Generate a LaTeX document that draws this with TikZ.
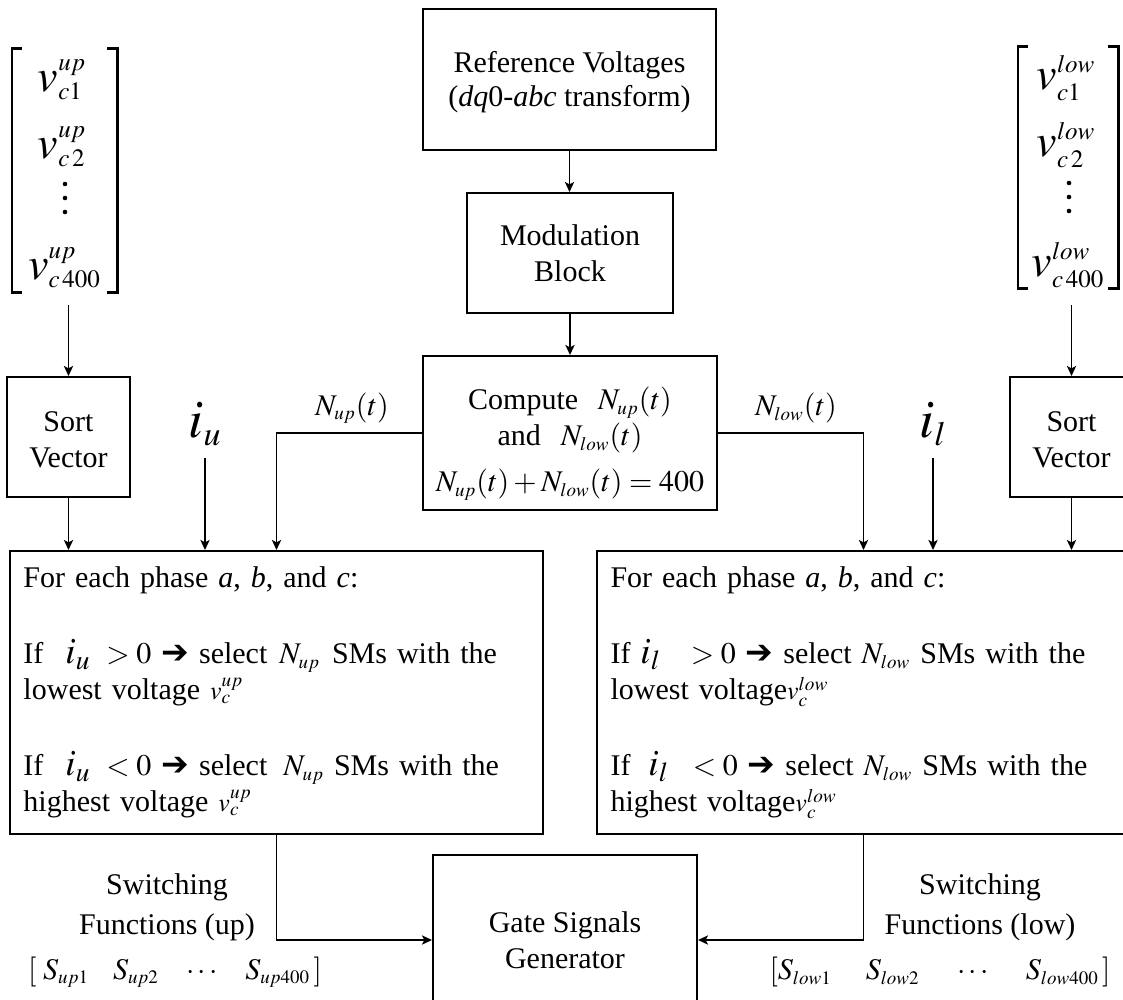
\documentclass[tikz,border=0pt]{standalone}
\usepackage{mathptmx}
\usepackage{fontspec}
\setmainfont{Liberation Serif}
\newfontfamily\dejavu{DejaVu Sans}
\usetikzlibrary{arrows.meta}
\DeclareMathSizes{27}{27}{17}{12}
\DeclareMathSizes{23}{23}{12.5}{9}
\DeclareMathSizes{15}{15}{9.5}{7}
\newcommand\txtsz{\fontsize{15}{18}\selectfont}
\newcommand\vecsz{\fontsize{23}{26}\selectfont}
\newcommand\cursz{\fontsize{27}{30}\selectfont}
\newcommand\heavyarrow{{\dejavu\fontsize{16.5}{18}\selectfont\symbol{"2794}}}
\newcommand\boxcur[1]{{\fontsize{18.5}{18}\selectfont$#1$}}
\newcommand\smallv[1]{{\fontsize{13}{18}\selectfont$v_c^{#1}$}}
\tikzset{
  blk/.style={draw, line width=1pt, align=center, inner sep=0pt, font=\txtsz},
  lbl/.style={inner sep=0pt, font=\txtsz, align=center},
  link/.style={line width=0.9pt},
  arr/.style={link, -{Stealth[length=5pt,width=4.6pt,inset=1.2pt]}},
  brk/.style={line width=1.1pt},
  vent/.style={inner sep=0pt, font=\vecsz},
  dotm/.style={fill=black},
  logic/.style={blk, align=left, text width=253pt, inner xsep=6.5pt,
    minimum width=266.5pt, minimum height=141.5pt},
}
\begin{document}
\begin{tikzpicture}[x=0.5pt,y=-0.5pt]
\useasboundingbox (0,0) rectangle (1123,1000);
\clip (0,0) rectangle (1123,1000);

% ---- capacitor voltage vectors (upper and lower arm)
\node[inner sep=0pt, minimum width=52.5pt, minimum height=121.5pt] (vup) at (64.5,170.5) {};
\draw[brk] ([xshift=5pt]vup.north west) -| (vup.south west) -- ++(5pt,0);
\draw[brk] ([xshift=-5pt]vup.north east) -| (vup.south east) -- ++(-5pt,0);
\node[vent] (vup1) at (62,80) {$v^{up}_{c1}$};
\node[vent] (vup2) at (62,147) {$v^{up}_{c\,2}$};
\fill[dotm] (65,184) circle (1.15pt) (65,198) circle (1.15pt) (65,212) circle (1.15pt);
\node[vent] (vup400) at (64.5,268) {$v^{up}_{c\,400}$};
\coordinate (vupout) at (68.5,305);

\node[inner sep=0pt, minimum width=50pt, minimum height=120.5pt] (vlow) at (1068,167.5) {};
\draw[brk] ([xshift=5pt]vlow.north west) -| (vlow.south west) -- ++(5pt,0);
\draw[brk] ([xshift=-5pt]vlow.north east) -| (vlow.south east) -- ++(-5pt,0);
\node[vent] (vlow1) at (1066,78) {$v^{low}_{c1}$};
\node[vent] (vlow2) at (1066,145) {$v^{low}_{c\,2}$};
\fill[dotm] (1069,183) circle (1.15pt) (1069,197) circle (1.15pt) (1069,211) circle (1.15pt);
\node[vent] (vlow400) at (1068,265) {$v^{low}_{c\,400}$};
\coordinate (vlowout) at (1071.5,305);

% ---- central chain
\node[blk, minimum width=146.5pt, minimum height=70.5pt] (ref) at (569.5,79.5)
  {\rule{0pt}{13pt}Reference Voltages\\[-1pt](\textit{dq}0-\textit{abc} transform)};
\node[blk, minimum width=103pt, minimum height=60pt] (mod) at (570,253)
  {Modulation\\Block};
\node[blk, minimum width=147pt, minimum height=77pt] (cmp) at (570,433)
  {\rule{0pt}{22pt}Compute\hspace{10pt}$N_{up}(t)$\\and\hspace{10pt}$N_{low}(t)$\\[5pt]$N_{up}(t)+N_{low}(t)=400$};

% ---- sorting blocks
\node[blk, minimum width=61.5pt, minimum height=60pt] (sortL) at (68.5,437) {\rule{0pt}{13pt}Sort\\Vector};
\node[blk, minimum width=61.5pt, minimum height=60pt] (sortR) at (1071.5,437) {\rule{0pt}{13pt}Sort\\Vector};

% ---- arm currents
\node[inner sep=0pt, font=\cursz] (iu) at (205,424) {$i_u$};
\node[inner sep=0pt, font=\cursz] (il) at (933,424) {$i_l$};

% ---- selection logic
\node[logic] (bigL) at (276.5,692.5)
  {For each phase \textit{a}, \textit{b}, and \textit{c}:\\[20pt]
   If\hspace{11pt}\boxcur{i_u}\hspace{8pt}$>0$ \heavyarrow\ select\hspace{6pt}$N_{up}$\hspace{6pt}SMs with the\\
   lowest voltage \smallv{up}\\[20pt]
   If\hspace{11pt}\boxcur{i_u}\hspace{8pt}$<0$ \heavyarrow\ select\hspace{8pt}$N_{up}$ SMs with the\\
   highest voltage \smallv{up}};
\node[logic] (bigR) at (863.5,692.5)
  {For each phase \textit{a}, \textit{b}, and \textit{c}:\\[20pt]
   If\hspace{5pt}\boxcur{i_l}\hspace{15pt}$>0$ \heavyarrow\ select $N_{low}$ SMs with the\\
   lowest voltage\smallv{low}\\[20pt]
   If\hspace{9pt}\boxcur{i_l}\hspace{12pt}$<0$ \heavyarrow\ select $N_{low}$ SMs with the\\
   highest voltage\smallv{low}};

% ---- gate signal generation
\node[blk, minimum width=132pt, minimum height=85pt] (gate) at (565,940) {Gate Signals\\Generator};

% ---- labels
\node[lbl] (nup) at (352,408) {$N_{up}(t)$};
\node[lbl] (nlow) at (796,408) {$N_{low}(t)$};
\node[lbl] (swL) at (167,907) {Switching\\[2pt]Functions (up)};
\node[lbl] (sL) at (175,972) {$\left[\;S_{up1}\hspace{12pt}S_{up2}\hspace{12pt}\cdots\hspace{12pt}S_{up400}\,\right]$};
\node[lbl] (swR) at (980,907) {Switching\\[2pt]Functions (low)};
\node[lbl] (sR) at (940,972) {$\left[S_{low1}\hspace{17pt}S_{low2}\hspace{17pt}\cdots\hspace{17pt}S_{low400}\,\right]$};

% ---- connectors
\draw[arr] (ref.south) -- (ref.south |- mod.north);
\draw[arr] (mod.south) -- (cmp.north);
\draw[arr] (vupout) -- (sortL.north);
\draw[arr] (vlowout) -- (sortR.north);
\draw[arr] (sortL.south) -- (sortL.south |- bigL.north);
\draw[arr] (sortR.south) -- (sortR.south |- bigR.north);
\draw[arr] ([yshift=-6pt]iu.south) -- (iu.south |- bigL.north);
\draw[arr] ([yshift=-6pt]il.south) -- (il.south |- bigR.north);
\draw[arr] (cmp.west) -| (bigL.north);
\draw[arr] (cmp.east) -| (bigR.north);
\draw[arr] (bigL.south) |- (gate.west);
\draw[arr] (bigR.south) |- (gate.east);
\end{tikzpicture}
\end{document}
